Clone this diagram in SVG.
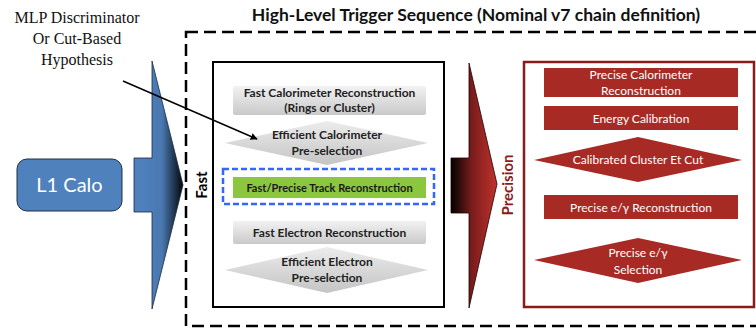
<svg xmlns="http://www.w3.org/2000/svg" width="756" height="328" viewBox="0 0 756 328">
<defs>
<linearGradient id="gBlue" gradientUnits="userSpaceOnUse" x1="140" y1="0" x2="184" y2="0">
<stop offset="0" stop-color="#4f81bd"/><stop offset="0.5" stop-color="#4a78b0"/><stop offset="1" stop-color="#000"/>
</linearGradient>
<linearGradient id="gRed" gradientUnits="userSpaceOnUse" x1="451" y1="0" x2="497" y2="0">
<stop offset="0" stop-color="#000"/><stop offset="0.45" stop-color="#7a1c1c"/><stop offset="1" stop-color="#c0322c"/>
</linearGradient>
<linearGradient id="gGray" x1="0" y1="0" x2="0" y2="1">
<stop offset="0" stop-color="#f2f2f2"/><stop offset="1" stop-color="#c9c9c9"/>
</linearGradient>
<linearGradient id="gDia" x1="0" y1="0" x2="0" y2="1">
<stop offset="0" stop-color="#ececec"/><stop offset="1" stop-color="#c4c4c4"/>
</linearGradient>
<marker id="arr" viewBox="0 0 10 10" refX="9" refY="5" markerWidth="7" markerHeight="7" orient="auto" markerUnits="userSpaceOnUse">
<path d="M0,0 L10,5 L0,10 Z" fill="#000"/>
</marker>
<style>
.b{font-family:Lato,"Open Sans","Liberation Sans",sans-serif;font-weight:bold;text-anchor:middle}
.w{font-family:Lato,"Open Sans","Liberation Sans",sans-serif;fill:#fff;text-anchor:middle;font-size:12px}
.gk{font-size:12px;fill:#222}
.red{fill:#a82a25}
.serif{font-family:"Liberation Serif","Times New Roman",serif;font-size:16px;text-anchor:middle;fill:#111}
</style>
</defs>
<rect width="756" height="328" fill="#fff"/>

<text class="b" x="476" y="21" font-size="17.5" fill="#111">High-Level Trigger Sequence (Nominal v7 chain definition)</text>
<rect x="186" y="32" width="600" height="294" fill="none" stroke="#000" stroke-width="2.5" stroke-dasharray="12,6"/>

<g id="mlp-label">
<text class="serif" x="77" y="23">MLP Discriminator</text>
<text class="serif" x="77" y="44">Or Cut-Based</text>
<text class="serif" x="77" y="65">Hypothesis</text>
</g>

<g id="l1calo">
<rect x="17" y="159" width="105" height="52" rx="10" fill="#4f81bd" stroke="#1f2f44" stroke-width="1"/>
<text x="69.5" y="192" font-family="Lato,'Open Sans',sans-serif" font-size="20" fill="#fff" text-anchor="middle">L1 Calo</text>
</g>

<g id="blue-arrow">
<path d="M134,158 L152,158 L152,61 L183,185 L152,309 L152,212 L134,212 Z" fill="url(#gBlue)" stroke="#1a2a40" stroke-width="0.8"/>
</g>

<g id="fast-box">
<rect x="213" y="62" width="231" height="245" fill="#fff" stroke="#000" stroke-width="2"/>
<text class="b" transform="translate(207,185) rotate(-90)" font-size="15" fill="#000">Fast</text>
</g>

<g id="fast-calo">
<rect x="233" y="86" width="193" height="29" rx="2" fill="url(#gGray)"/>
<text class="b gk" x="329.5" y="97">Fast Calorimeter Reconstruction</text>
<text class="b gk" x="329.5" y="112">(Rings or Cluster)</text>
</g>

<g id="eff-calo">
<polygon points="225,143 327,121 428,143 327,165" fill="url(#gDia)"/>
<text class="b gk" x="327" y="139">Efficient Calorimeter</text>
<text class="b gk" x="327" y="155">Pre-selection</text>
</g>

<g id="track">
<rect x="223" y="169" width="211" height="35" fill="none" stroke="#3366ff" stroke-width="2.5" stroke-dasharray="6,3"/>
<rect x="233" y="177" width="193" height="21" fill="#8cc63f"/>
<text class="b" x="329.5" y="191.5" font-size="11" fill="#1a1a1a">Fast/Precise Track Reconstruction</text>
</g>

<g id="fast-electron">
<rect x="233" y="221" width="193" height="23" rx="2" fill="url(#gGray)"/>
<text class="b gk" x="329.5" y="236.5">Fast Electron Reconstruction</text>
</g>

<g id="eff-electron">
<polygon points="225,270 327,247 428,270 327,293" fill="url(#gDia)"/>
<text class="b gk" x="327" y="266">Efficient Electron</text>
<text class="b gk" x="327" y="282">Pre-selection</text>
</g>

<g id="red-arrow">
<path d="M451,158 L469,158 L469,63 L497,184 L469,308 L469,213 L451,213 Z" fill="url(#gRed)" stroke="#200" stroke-width="0.8"/>
</g>

<g id="precision-box">
<rect x="524" y="62" width="230" height="245" fill="#fff" stroke="#8b1a1a" stroke-width="2.5"/>
<text class="b" transform="translate(513,185) rotate(-90)" font-size="15" fill="#8b1a1a">Precision</text>
</g>

<g id="prec-calo">
<rect x="544" y="68" width="194" height="29" class="red"/>
<text class="w" x="641" y="79">Precise Calorimeter</text>
<text class="w" x="641" y="94.5">Reconstruction</text>
</g>

<g id="energy-cal">
<rect x="544" y="106" width="194" height="24" class="red"/>
<text class="w" x="641" y="122.5">Energy Calibration</text>
</g>

<g id="et-cut">
<polygon points="534,160 638,137 742,160 638,182" class="red"/>
<text class="w" x="638" y="164">Calibrated Cluster Et Cut</text>
</g>

<g id="prec-reco">
<rect x="544" y="195" width="194" height="24" class="red"/>
<text class="w" x="641" y="211.5">Precise e/γ Reconstruction</text>
</g>

<g id="prec-sel">
<polygon points="534,260 638,238 742,260 638,283" class="red"/>
<text class="w" x="638" y="257">Precise e/γ</text>
<text class="w" x="638" y="273.5">Selection</text>
</g>

<g id="connectors">
<line x1="123" y1="81" x2="257" y2="139" stroke="#000" stroke-width="1.5" marker-end="url(#arr)"/>
</g>
</svg>
